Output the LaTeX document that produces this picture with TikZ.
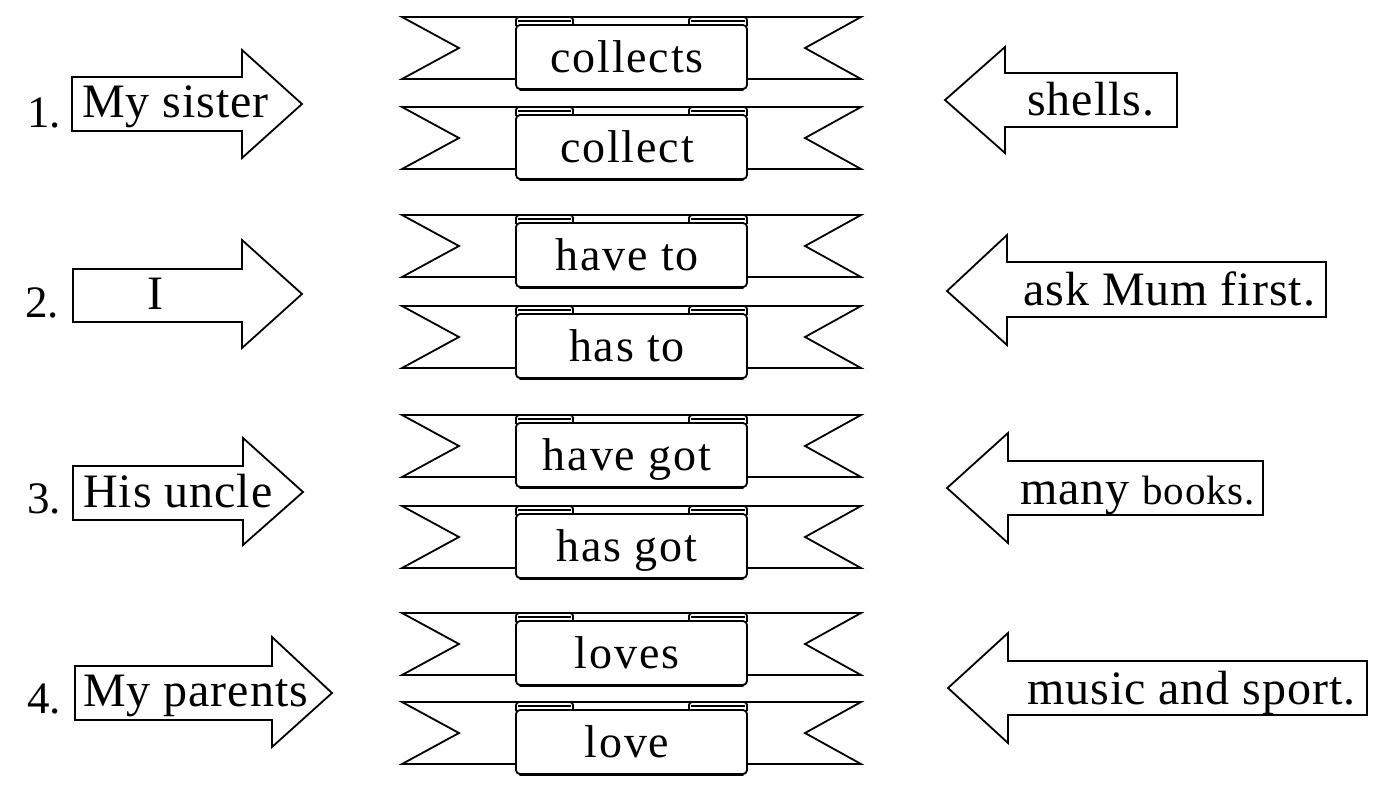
\documentclass[tikz,border=0pt]{standalone}
\usepackage{fontspec}
\setmainfont{Liberation Serif}
\newfontfamily\ribfont[LetterSpace=4]{Liberation Serif}
\newfontfamily\arrfont[LetterSpace=2]{Liberation Serif}
\tikzset{
  outline/.style={draw=black, line width=1.8pt, line join=miter, fill=white},
  ribtext/.style={font=\ribfont\fontsize{46}{54}\selectfont, anchor=base, inner sep=0pt},
  arrtext/.style={font=\arrfont\fontsize{48}{56}\selectfont, anchor=base west, inner sep=0pt},
  numtext/.style={font=\fontsize{45}{52}\selectfont, anchor=base west, inner sep=0pt},
}
\newcommand\myribbon[3]{%
  \begin{scope}[shift={(0,#1)}]
    \path[outline] (402,0) -- (861,0) -- (805,31) -- (861,62) -- (402,62) -- (459,31) -- cycle;
    \path[outline, rounded corners=3pt] (516,9) -- (516,0) -- (573,0) -- (573,9);
    \path[outline, rounded corners=3pt] (689,9) -- (689,0) -- (747,0) -- (747,9);
    \draw[line width=1.6pt] (518,4) -- (571,4);
    \draw[line width=1.6pt] (691,4) -- (745,4);
    \path[outline, rounded corners=4pt] (516,8) -- (516,72) -- (747,72) -- (747,8) -- cycle;
    \draw[line width=2.6pt, line cap=round] (520,72.5) -- (743,72.5);
    \node[ribtext] (#2) at (627,55) {#3};
  \end{scope}}
\begin{document}
\begin{tikzpicture}[x=1pt, y=-1pt]
\useasboundingbox (0,0) rectangle (1386,788);
\fill[white] (0,0) rectangle (1386,788);
% ribbons
\myribbon{17}{r1a}{collects}
\myribbon{107}{r1b}{collect}
\myribbon{215}{r2a}{have to}
\myribbon{306}{r2b}{has to}
\myribbon{415}{r3a}{have got}
\myribbon{506}{r3b}{has got}
\myribbon{613}{r4a}{loves}
\myribbon{702}{r4b}{love}
% left arrows
\path[outline] (72,77) -- (242,77) -- (242,50) -- (302,104) -- (242,158) -- (242,131) -- (72,131) -- cycle;
\path[outline] (73,269) -- (242,269) -- (242,240) -- (302,294) -- (242,348) -- (242,322) -- (73,322) -- cycle;
\path[outline] (73,466) -- (243,466) -- (243,438) -- (303,492) -- (243,545) -- (243,520) -- (73,520) -- cycle;
\path[outline] (75,666) -- (272,666) -- (272,637) -- (332,693) -- (272,747) -- (272,720) -- (75,720) -- cycle;
% right arrows
\path[outline] (1177,73) -- (1005,73) -- (1005,47) -- (945,100) -- (1005,153) -- (1005,127) -- (1177,127) -- cycle;
\path[outline] (1326,262) -- (1007,262) -- (1007,235) -- (947,291) -- (1007,345) -- (1007,317) -- (1326,317) -- cycle;
\path[outline] (1263,461) -- (1008,461) -- (1008,433) -- (947,488) -- (1008,543) -- (1008,515) -- (1263,515) -- cycle;
\path[outline] (1367,661) -- (1008,661) -- (1008,633) -- (948,688) -- (1008,743) -- (1008,715) -- (1367,715) -- cycle;
% numbers
\node[numtext] (n1) at (27,127) {1.};
\node[numtext] (n2) at (25,317) {2.};
\node[numtext] (n3) at (27,513) {3.};
\node[numtext] (n4) at (27,713) {4.};
% left texts
\node[arrtext] (l1) at (82,117) {My sister};
\node[arrtext, anchor=base] (l2) at (155,309) {I};
\node[arrtext] (l3) at (83,507) {His uncle};
\node[arrtext] (l4) at (83,706) {My parents};
% right texts
\node[arrtext] (p1) at (1027,115) {shells.};
\node[arrtext] (p2) at (1023,305) {ask Mum first.};
\node[arrtext] (p3) at (1020,504) {many {\fontsize{41}{48}\selectfont books.}};
\node[arrtext] (p4) at (1027,704) {music and sport.};
\end{tikzpicture}
\end{document}
